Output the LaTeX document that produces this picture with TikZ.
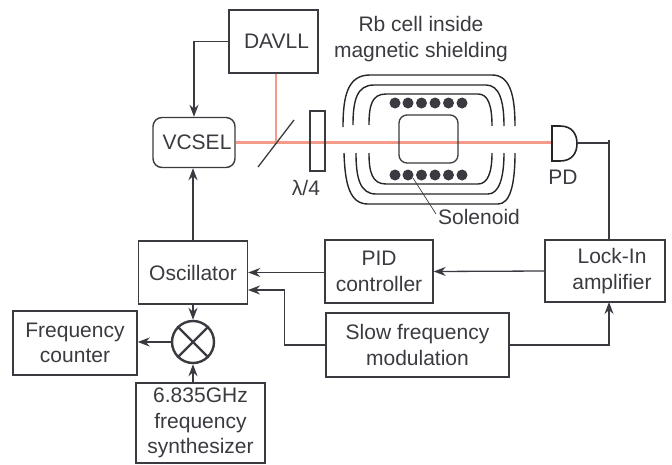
\documentclass[tikz,border=0pt]{standalone}
\usepackage{fontspec}
\setmainfont{Liberation Sans}
\usetikzlibrary{arrows.meta}
\definecolor{ink}{HTML}{3A3A40}
\definecolor{beam}{HTML}{F49A88}
\tikzset{
box/.style={draw=ink,line width=1.4pt,inner sep=0pt,align=center},
lbl/.style={inner sep=0pt,align=center},
wire/.style={draw=ink,line width=1.3pt},
arrow/.style={wire,-{Stealth[length=12pt,width=9pt]}},
shield/.style={draw=black!85,line width=1.4pt},
every node/.style={text=ink,font=\fontsize{21}{25.5}\selectfont}
}
\begin{document}
\begin{tikzpicture}[x=1pt,y=-1pt]
\useasboundingbox (0,0) rectangle (672,464);
\node[box,minimum width=89pt,minimum height=63pt](davll)at(273.5,41.5){\hspace*{6pt}DAVLL};
\node[box,rounded corners=9pt,minimum width=82pt,minimum height=50pt](vcsel)at(194,142.5){\hspace*{6pt}VCSEL};
\node[box,minimum width=109pt,minimum height=63pt](osc)at(193,272.5){Oscillator};
\node[box,minimum width=108pt,minimum height=63pt](pid)at(379,271.5){PID\\controller};
\node[box,minimum width=120pt,minimum height=62pt](lockin)at(605,271){\hspace*{14pt}Lock-In\\\hspace*{14pt}amplifier};
\node[box,minimum width=183pt,minimum height=64pt](slow)at(417.5,345){Slow frequency\\modulation};
\node[box,minimum width=124pt,minimum height=64pt](counter)at(75,343){Frequency\\counter};
\node[box,minimum width=129pt,minimum height=80pt](synth)at(200.5,423){6.835GHz\\frequency\\synthesizer};
\node[draw=ink,line width=2.4pt,circle,inner sep=0pt,minimum size=42pt](mix)at(193,342){};
\draw[draw=ink,line width=2.4pt](mix.45)--(mix.225);
\draw[draw=ink,line width=2.4pt](mix.135)--(mix.315);
\node[lbl](rbcell)at(421,39){Rb cell inside\\magnetic shielding};
\node[lbl](wave)at(306,188){λ/4};
\node[lbl](pdlabel)at(563,177){PD};
\node[lbl](solenoid)at(479,217){Solenoid};
\coordinate(split)at(276,142.5);
\coordinate(pdin)at(552,142.5);
\coordinate(pdout)at(577,143);
\coordinate(lockt)at(609,140);
\coordinate(locka)at(609,240);
\coordinate(lockb)at(609,302);
\coordinate(oscb)at(248,290);
\coordinate(solfrom)at(413,178);
\coordinate(solto)at(436,214);
\draw[beam,line width=3pt](vcsel.east)--(pdin);
\draw[beam,line width=1.8pt](davll.south-|split)--(split);
\draw[draw=ink,line width=1.3pt](258,167)--(294,120);
\draw[box,fill=none](310,111)rectangle(325,171);
\draw[draw=ink,line width=1.3pt,rounded corners=8pt](399,115)rectangle(458,163);
\draw[shield](343,127)..controls(343,95)and(348,75)..(370,75)--(492,75)..controls(510,75)and(515,95)..(515,126);
\draw[shield](353,125)..controls(353,100)and(357,85)..(374,85)--(486,85)..controls(499,85)and(504,100)..(504,126);
\draw[shield](369,125)..controls(369,105)and(372,94)..(386,94)--(478,94)..controls(488,94)and(492,105)..(492,126);
\draw[shield](344,153)..controls(345,185)and(350,204)..(368,204)--(498,204)..controls(510,204)and(515,185)..(515,153);
\draw[shield](356,153)..controls(356,178)and(360,194)..(376,194)--(488,194)..controls(499,194)and(504,178)..(504,153);
\draw[shield](369,153)..controls(369,172)and(372,184)..(386,184)--(478,184)..controls(488,184)and(492,172)..(492,153);
\pgfmathsetmacro{\ka}{103}
\fill[ink](395,\ka)circle(5.5);
\fill[ink](408,\ka)circle(5.5);
\fill[ink](421.5,\ka)circle(5.5);
\fill[ink](435,\ka)circle(5.5);
\fill[ink](448.5,\ka)circle(5.5);
\fill[ink](462,\ka)circle(5.5);
\pgfmathsetmacro{\ka}{175}
\fill[ink](395,\ka)circle(5.5);
\fill[ink](408,\ka)circle(5.5);
\fill[ink](421.5,\ka)circle(5.5);
\fill[ink](435,\ka)circle(5.5);
\fill[ink](448.5,\ka)circle(5.5);
\fill[ink](462,\ka)circle(5.5);
\draw[draw=ink,line width=0.7pt](solfrom)--(solto);
\draw[draw=black!85,line width=1.6pt](pdin|-0,126)--(560,126)..controls(572,126)and(577,134)..(577,143.5)..controls(577,153)and(572,161)..(560,161)--(pdin|-0,161)--cycle;
\draw[wire](pdout)--(pdout-|lockt);
\draw[wire](lockt)--(locka);
\draw[arrow](davll.west)-|(vcsel.north);
\draw[arrow](osc.north)--(osc.north|-vcsel.south);
\draw[arrow](pid.west|-osc.east)--(osc.east);
\draw[arrow](lockin.west)--(pid.east);
\draw[arrow](slow.west)--++(-41,0)|-(oscb);
\draw[arrow](slow.east)-|(lockb);
\draw[arrow](osc.south)--(mix.north);
\draw[arrow](mix.west)--(counter.east|-mix.west);
\draw[arrow](synth.north-|mix.south)--(mix.south);
\end{tikzpicture}
\end{document}
